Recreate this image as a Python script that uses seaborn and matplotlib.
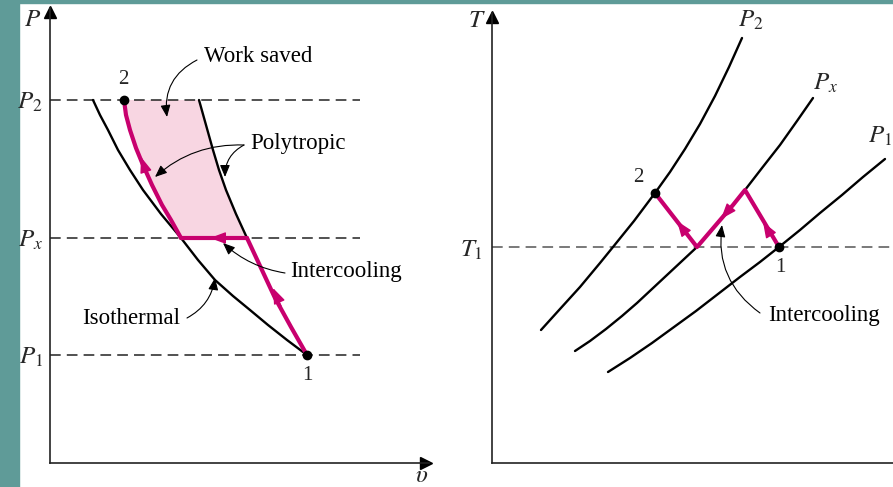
import matplotlib
matplotlib.use("Agg")
import matplotlib.pyplot as plt
import seaborn as sns
from matplotlib.patches import Rectangle

# ---- P-v diagram (arbitrary units, origin at the axis corner) ----
P2, PX, P1 = 363, 225, 108
iso_v = [43, 50, 58, 68, 80, 93, 111, 131, 148, 165, 183, 200, 218, 237, 257]
iso_p = [363, 348, 333, 313, 293, 273, 249, 225, 203, 183, 167, 153, 138, 123, 108]
poly_v = [149, 156, 163, 169, 176, 186, 197]
poly_p = [363, 338, 313, 293, 273, 249, 225]
stage1_v = [197, 211, 225, 241, 257]
stage1_p = [225, 195, 165, 136, 108]
stage2_v = [131, 121, 112, 102, 93, 86, 80, 76, 74]
stage2_p = [225, 243, 258, 278, 298, 315, 333, 348, 363]

# ---- T-s diagram ----
T1 = 216
p2_s = [49, 68, 88, 108, 121, 142, 163, 178, 193, 208, 223, 237, 250]
p2_t = [133, 154, 176, 200, 216, 242, 270, 291, 314, 339, 367, 396, 425]
px_s = [83, 98, 114, 130, 145, 160, 175, 190, 205, 217, 229, 241, 253, 270, 288, 305, 321]
px_t = [112, 122, 134, 147, 160, 174, 188, 202, 216, 230, 244, 258, 273, 295, 318, 342, 365]
p1_s = [116, 138, 160, 182, 204, 226, 248, 268, 287, 308, 328, 350, 371, 393]
p1_t = [91, 105, 120, 136, 152, 169, 186, 201, 216, 233, 250, 268, 286, 304]
path_s = [287, 253, 241, 229, 217, 205, 163]
path_t = [216, 273, 258, 244, 230, 216, 270]

MAGENTA = "#c8006e"
PINK = "#f8d6e2"
TEAL = "#5f9b98"

sns.set_theme(style="white")
plt.rcParams["font.family"] = ["Liberation Serif", "DejaVu Serif"]
plt.rcParams["mathtext.fontset"] = "stix"

W, H = 893, 487
fig = plt.figure(figsize=(W / 100, H / 100), dpi=100)
fig.patch.set_facecolor("white")
fig.add_artist(Rectangle((0, 0), 19 / W, 1, transform=fig.transFigure, color=TEAL, zorder=0))
fig.add_artist(Rectangle((0, 1 - 3 / H), 1, 3 / H, transform=fig.transFigure, color=TEAL, zorder=0))

txt = dict(fontsize=16.5, color="black")
arrow_kw = dict(arrowstyle="-|>,head_length=0.6,head_width=0.25", color="black",
                lw=0.8, shrinkA=0, shrinkB=0, mutation_scale=12)


def style_axes(ax, xmax, ymax):
    ax.set_xlim(0, xmax)
    ax.set_ylim(0, ymax)
    ax.set_xticks([])
    ax.set_yticks([])
    ax.patch.set_alpha(0)
    for side in ["top", "right"]:
        ax.spines[side].set_visible(False)
    for side in ["left", "bottom"]:
        ax.spines[side].set_color("#222222")
        ax.spines[side].set_linewidth(1.2)


def flow_arrow(ax, tail, tip):
    ax.annotate("", xy=tip, xytext=tail,
                arrowprops=dict(arrowstyle="-|>,head_length=0.8,head_width=0.3",
                                color=MAGENTA, lw=1, shrinkA=0, shrinkB=0,
                                mutation_scale=12), zorder=6)


def curve(ax, x, y, color="black", lw=1.7):
    sns.lineplot(x=x, y=y, ax=ax, color=color, lw=lw, sort=False, estimator=None)


# ================= left: P-v =================
ax1 = fig.add_axes([50 / W, 24 / H, (429 - 50) / W, (463 - 8) / H])
style_axes(ax1, 379, 455)
ax1.plot([0], [451], marker="^", ms=8, color="black", clip_on=False)
ax1.plot([376], [0], marker=">", ms=8, color="black", clip_on=False)

for lev in (P2, PX, P1):
    ax1.plot([0, 310], [lev, lev], color="#222222", lw=1.1, dashes=(7, 4))

fill_v = [stage2_v[-1]] + poly_v + stage2_v
fill_p = [P2] + poly_p + stage2_p
ax1.fill(fill_v, fill_p, color=PINK, lw=0, zorder=1)

curve(ax1, iso_v, iso_p)
curve(ax1, poly_v, poly_p)
curve(ax1, stage1_v, stage1_p, MAGENTA, 3)
curve(ax1, [stage1_v[0], stage2_v[0]], [PX, PX], MAGENTA, 3)
curve(ax1, stage2_v, stage2_p, MAGENTA, 3)
flow_arrow(ax1, (231, 157), (223, 175))
flow_arrow(ax1, (178, PX), (160, PX))
flow_arrow(ax1, (97, 288), (91, 306))
ax1.plot([stage2_v[-1], stage1_v[-1]], [P2, P1], "o", color="black", ms=6, zorder=7)

ax1.text(-17, 443, "$P$", fontsize=18, ha="center", va="center")
ax1.text(372, -13, r"$\upsilon$", fontsize=18, ha="center", va="center")
for lab, lev in (("$P_2$", P2), ("$P_x$", PX), ("$P_1$", P1)):
    ax1.text(-7, lev - 2, lab, fontsize=18, ha="right", va="center")
ax1.text(73, 384, "2", fontsize=15, ha="center", va="center")
ax1.text(257, 88, "1", fontsize=15, ha="center", va="center")

ax1.text(154, 406, "Work saved", ha="left", va="center", **txt)
ax1.text(200, 320, "Polytropic", ha="left", va="center", **txt)
ax1.text(240, 191, "Intercooling", ha="left", va="center", **txt)
ax1.text(32, 145, "Isothermal", ha="left", va="center", **txt)
ax1.annotate("", xy=(117, 346), xytext=(147, 403),
             arrowprops=dict(connectionstyle="arc3,rad=0.35", **arrow_kw))
ax1.annotate("", xy=(105, 286), xytext=(194, 318),
             arrowprops=dict(connectionstyle="arc3,rad=0.2", **arrow_kw))
ax1.annotate("", xy=(175, 286), xytext=(194, 318),
             arrowprops=dict(connectionstyle="arc3,rad=0.3", **arrow_kw))
ax1.annotate("", xy=(173, 220), xytext=(235, 190),
             arrowprops=dict(connectionstyle="arc3,rad=-0.15", **arrow_kw))
ax1.annotate("", xy=(165, 185), xytext=(137, 145),
             arrowprops=dict(connectionstyle="arc3,rad=0.25", **arrow_kw))

# ================= right: T-s =================
ax2 = fig.add_axes([492 / W, 24 / H, (W - 492) / W, (463 - 13) / H])
style_axes(ax2, W - 492, 450)
ax2.plot([0], [446], marker="^", ms=8, color="black", clip_on=False)
ax2.plot([0, W - 492], [T1, T1], color="#555555", lw=1.1, dashes=(7, 4))

for s, t in ((p2_s, p2_t), (px_s, px_t), (p1_s, p1_t)):
    curve(ax2, s, t)
curve(ax2, path_s, path_t, MAGENTA, 3)
flow_arrow(ax2, (280, 226), (271, 241))
flow_arrow(ax2, (241, 258), (229, 244))
flow_arrow(ax2, (196, 227), (185, 242))
ax2.plot([path_s[-1], path_s[0]], [path_t[-1], path_t[0]], "o", color="black", ms=6, zorder=7)

ax2.text(-15, 442, "$T$", fontsize=18, ha="center", va="center")
ax2.text(-9, T1 - 3, "$T_1$", fontsize=18, ha="right", va="center")
ax2.text(246, 443, "$P_2$", fontsize=18, ha="left", va="center")
ax2.text(321, 380, "$P_x$", fontsize=18, ha="left", va="center")
ax2.text(376, 327, "$P_1$", fontsize=18, ha="left", va="center")
ax2.text(146, 286, "2", fontsize=15, ha="center", va="center")
ax2.text(288, 195, "1", fontsize=15, ha="center", va="center")
ax2.text(276, 148, "Intercooling", ha="left", va="center", **txt)
ax2.annotate("", xy=(230, 238), xytext=(268, 150),
             arrowprops=dict(connectionstyle="arc3,rad=-0.3", **arrow_kw))

fig.savefig("out.png", dpi=100, facecolor=fig.get_facecolor())
